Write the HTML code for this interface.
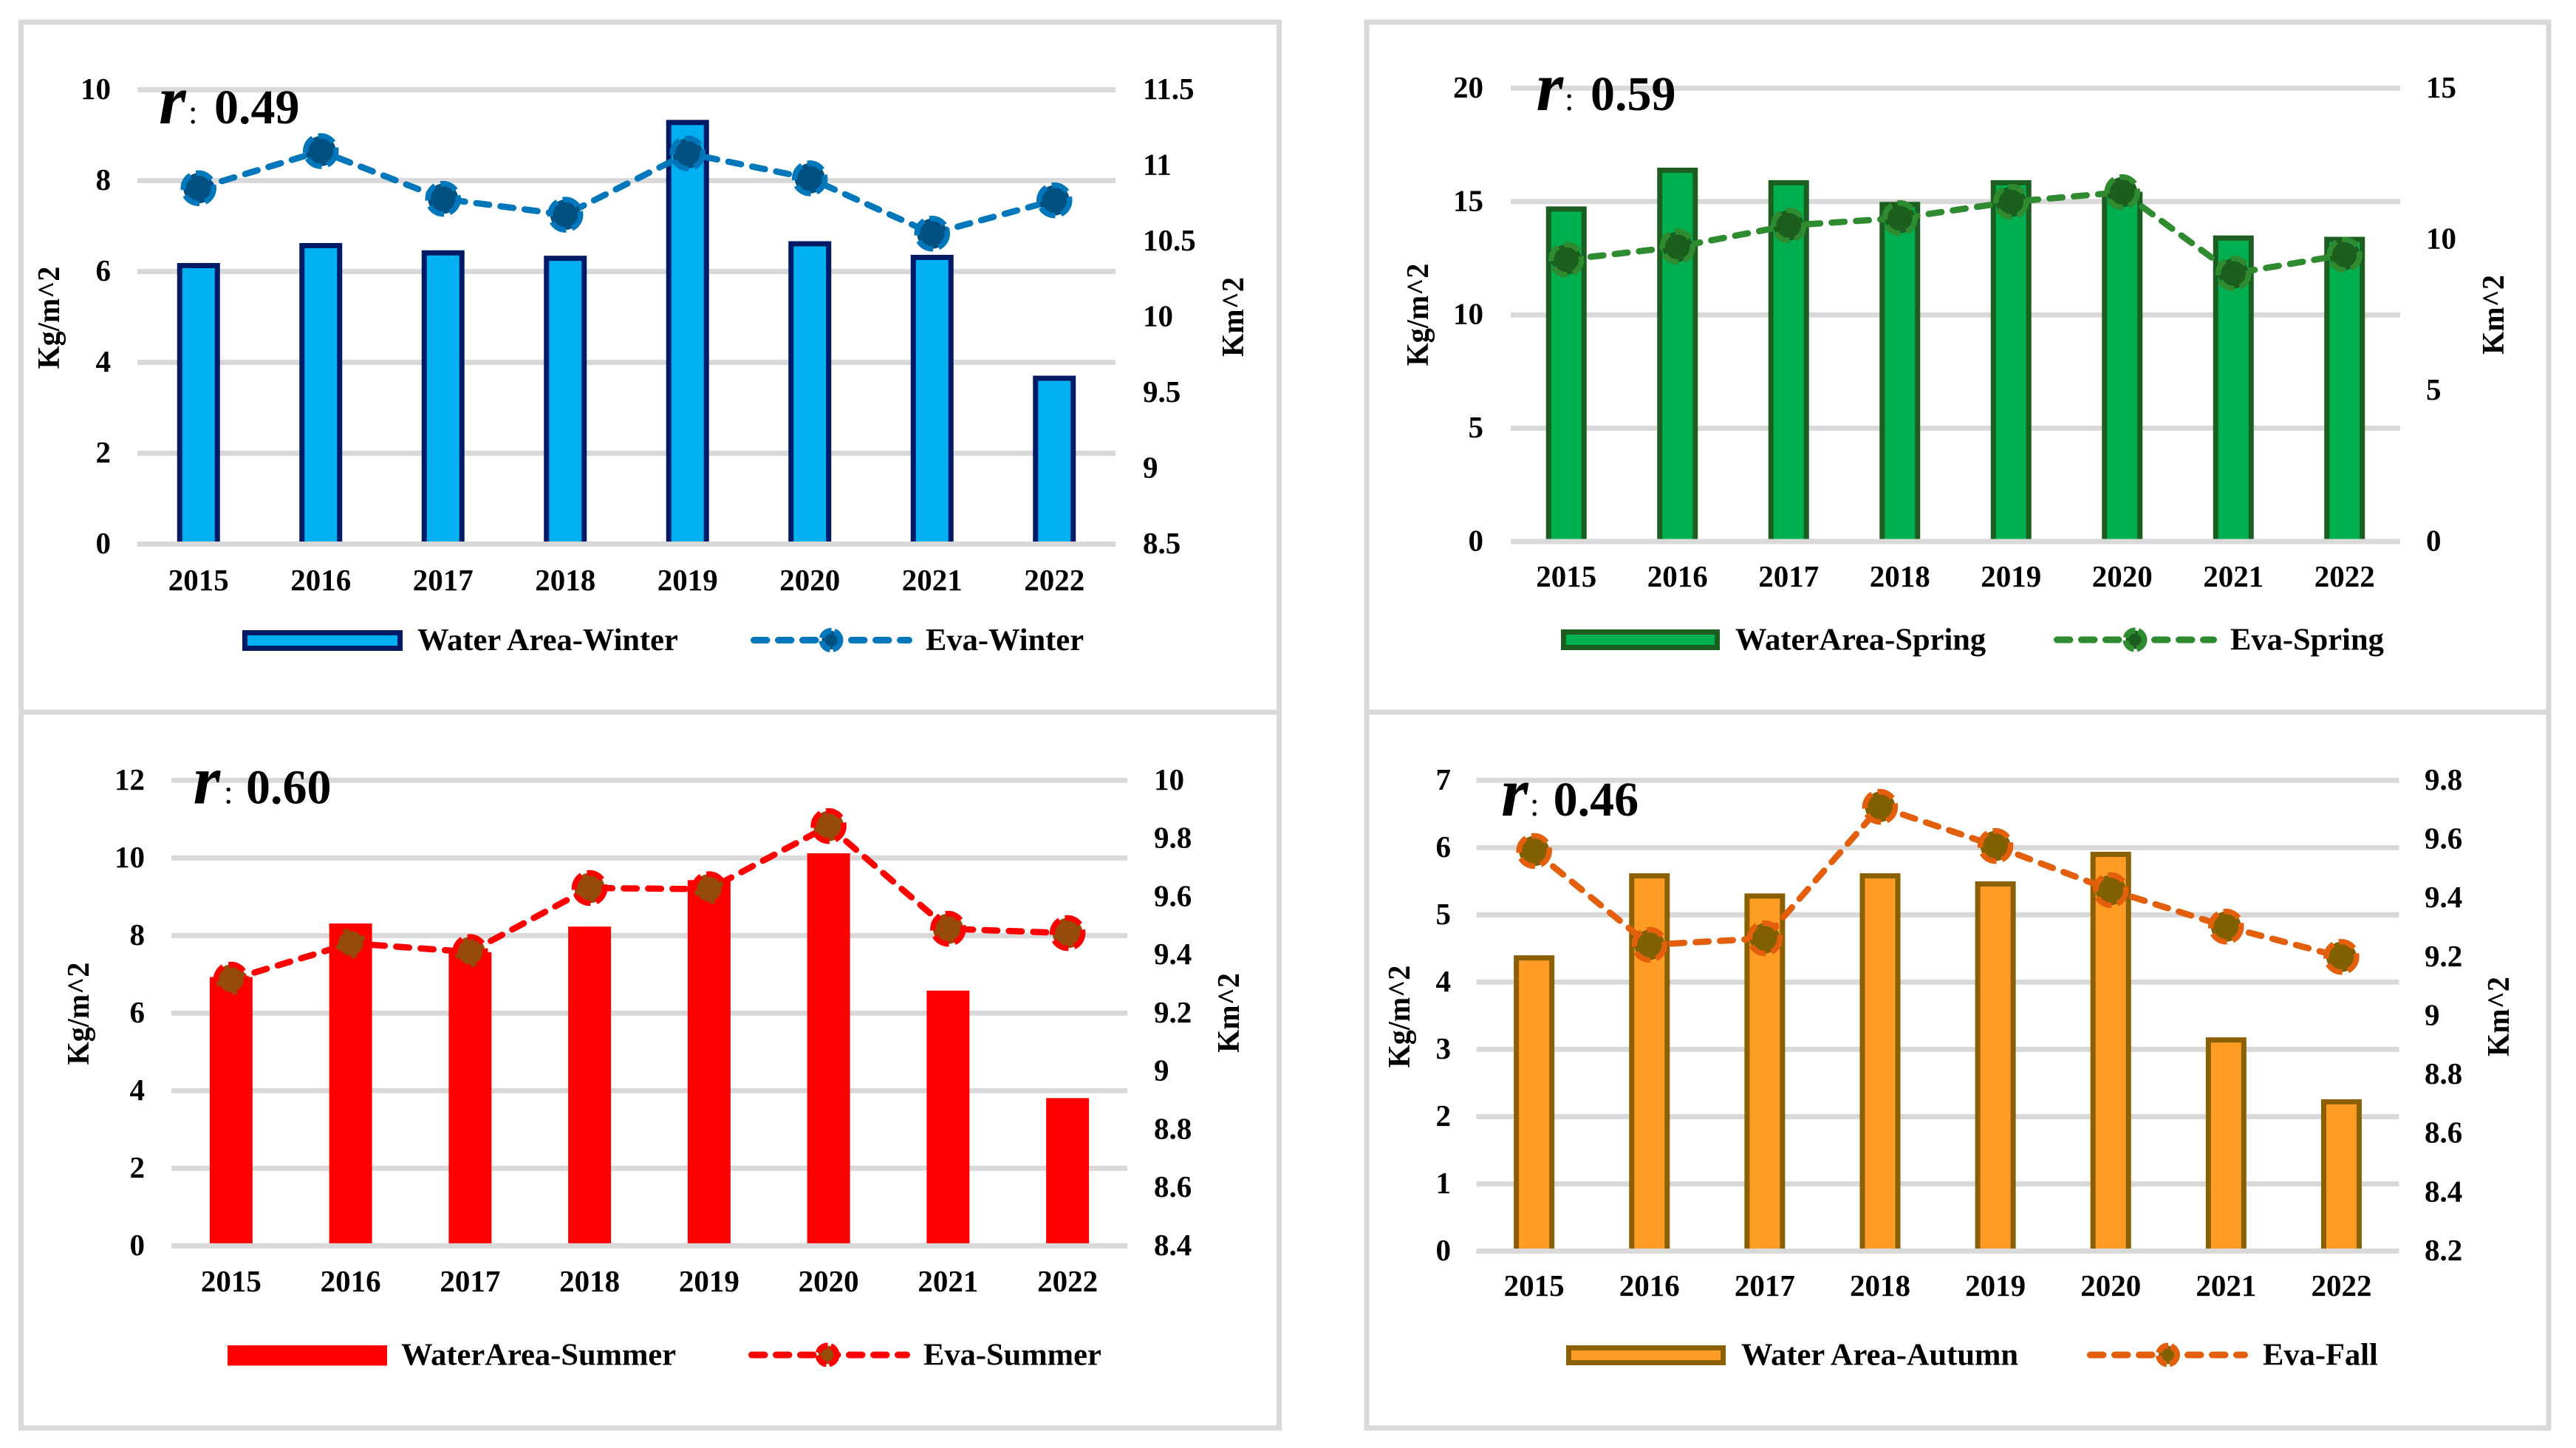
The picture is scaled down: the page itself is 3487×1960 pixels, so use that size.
<!DOCTYPE html>
<html lang="en">
<head>
<meta charset="utf-8">
<title>Water Area and Evaporation by Season</title>
<style>
  html, body { margin: 0; padding: 0; background: #ffffff; }
  svg { display: block; }
  text { font-family: "Liberation Serif", serif; font-weight: bold; fill: #000000; }
</style>
</head>
<body>
<svg id="figure" xmlns="http://www.w3.org/2000/svg" width="3487" height="1960" viewBox="0 0 3487 1960">
  <rect x="0" y="0" width="3487" height="1960" fill="#ffffff"/>
</svg>
<script>
const categories = ['2015', '2016', '2017', '2018', '2019', '2020', '2021', '2022'];

const winterBars = [6.13, 6.57, 6.41, 6.29, 9.28, 6.61, 6.31, 3.65];
const winterEva = [10.85, 11.095, 10.78, 10.675, 11.08, 10.915, 10.55, 10.77];
const winterLeftTicks = ['0', '2', '4', '6', '8', '10'];
const winterRightTicks = ['8.5', '9', '9.5', '10', '10.5', '11', '11.5'];

const springBars = [14.67, 16.38, 15.83, 14.87, 15.83, 15.32, 13.39, 13.33];
const springEva = [9.33, 9.75, 10.46, 10.7, 11.24, 11.56, 8.87, 9.49];
const springLeftTicks = ['0', '5', '10', '15', '20'];
const springRightTicks = ['0', '5', '10', '15'];

const summerBars = [6.93, 8.31, 7.57, 8.23, 9.43, 10.12, 6.58, 3.81];
const summerEva = [9.315, 9.44, 9.41, 9.63, 9.626, 9.843, 9.49, 9.475];
const summerLeftTicks = ['0', '2', '4', '6', '8', '10', '12'];
const summerRightTicks = ['8.4', '8.6', '8.8', '9', '9.2', '9.4', '9.6', '9.8', '10'];

const autumnBars = [4.36, 5.58, 5.28, 5.58, 5.46, 5.9, 3.14, 2.22];
const autumnEva = [9.56, 9.241, 9.263, 9.71, 9.577, 9.427, 9.303, 9.2];
const autumnLeftTicks = ['0', '1', '2', '3', '4', '5', '6', '7'];
const autumnRightTicks = ['8.2', '8.4', '8.6', '8.8', '9', '9.2', '9.4', '9.6', '9.8'];

const SVG_NS = 'http://www.w3.org/2000/svg';
const root = document.getElementById('figure');

function make(tag, attrs, parent) {
  const node = document.createElementNS(SVG_NS, tag);
  for (const key in attrs) node.setAttribute(key, attrs[key]);
  parent.appendChild(node);
  return node;
}

function label(parent, str, x, y, size, anchor) {
  const t = make('text', { x: x, y: y, 'font-size': size, 'text-anchor': anchor || 'middle' }, parent);
  t.textContent = str;
  return t;
}

const panels = [
  {
    key: 'winter', bars: winterBars, eva: winterEva, leftTicks: winterLeftTicks, rightTicks: winterRightTicks,
    frame: [28.5, 30, 1703, 934],
    left: 186, right: 1510, top: 121.5, bottom: 736.5,
    barW: 51, barStroke: 7, barFill: '#00B0F0', barEdge: '#001A66',
    line: '#0077BB', dot: '#005082',
    leftX: 150, rightX: 1547, xLabelY: 786,
    leftTitle: [67, 430], rightTitle: [1670, 429],
    swatch: [331.5, 856.5, 210, 21], legendY: 866.5, legendX: 565,
    lineLegend: [1016, 1235, 1125], lineTextX: 1253,
    barName: 'Water Area-Winter', lineName: 'Eva-Winter',
    rBadge: { rx: 215, cx: 255, nx: 290, base: 167, value: '0.49' }
  },
  {
    key: 'spring', bars: springBars, eva: springEva, leftTicks: springLeftTicks, rightTicks: springRightTicks,
    frame: [1850, 30, 1600, 934],
    left: 2045, right: 3249, top: 119.4, bottom: 733,
    barW: 48, barStroke: 7, barFill: '#00B050', barEdge: '#1B5E20',
    line: '#2E8B30', dot: '#1B5E1E',
    leftX: 2008, rightX: 3284, xLabelY: 781,
    leftTitle: [1920, 426], rightTitle: [3376, 426],
    swatch: [2116.5, 855.5, 208, 21], legendY: 866, legendX: 2349,
    lineLegend: [2780, 3001, 2890], lineTextX: 3019,
    barName: 'WaterArea-Spring', lineName: 'Eva-Spring',
    rBadge: { rx: 2079.5, cx: 2118, nx: 2153, base: 149, value: '0.59' }
  },
  {
    key: 'summer', bars: summerBars, eva: summerEva, leftTicks: summerLeftTicks, rightTicks: summerRightTicks,
    frame: [28.5, 964, 1703, 969],
    left: 232, right: 1526, top: 1056.3, bottom: 1686.4,
    barW: 58, barStroke: 0, barFill: '#FF0000', barEdge: 'none',
    line: '#FF0000', dot: '#964B0A',
    leftX: 196, rightX: 1562, xLabelY: 1735,
    leftTitle: [107, 1372], rightTitle: [1664, 1371],
    swatch: [308, 1821, 216, 27.5], legendY: 1834, legendX: 543,
    lineLegend: [1013, 1232, 1120], lineTextX: 1250,
    barName: 'WaterArea-Summer', lineName: 'Eva-Summer',
    rBadge: { rx: 261.5, cx: 303, nx: 333, base: 1087.6, value: '0.60' }
  },
  {
    key: 'autumn', bars: autumnBars, eva: autumnEva, leftTicks: autumnLeftTicks, rightTicks: autumnRightTicks,
    frame: [1850, 964, 1600, 969],
    left: 1998.6, right: 3247.5, top: 1056.3, bottom: 1693.5,
    barW: 48, barStroke: 7, barFill: '#FF9C24', barEdge: '#8B6000',
    line: '#E35F0B', dot: '#806000',
    leftX: 1964, rightX: 3282, xLabelY: 1741,
    leftTitle: [1895, 1376], rightTitle: [3383, 1376],
    swatch: [2123.5, 1824.5, 209, 20], legendY: 1834, legendX: 2357,
    lineLegend: [2825, 3043, 2934.5], lineTextX: 3063,
    barName: 'Water Area-Autumn', lineName: 'Eva-Fall',
    rBadge: { rx: 2032, cx: 2071, nx: 2102.6, base: 1104, value: '0.46' }
  }
];

function drawPanel(p) {
  const g = make('g', {}, root);
  
  

  const frame = make('rect', { x: p.frame[0], y: p.frame[1], width: p.frame[2], height: p.frame[3], fill: 'none', stroke: '#D9D9D9', 'stroke-width': 7 }, g);
  
  

  const leftMin = Number(p.leftTicks[0]);
  const leftMax = Number(p.leftTicks[p.leftTicks.length - 1]);
  const rightMin = Number(p.rightTicks[0]);
  const rightMax = Number(p.rightTicks[p.rightTicks.length - 1]);
  const yLeft = v => p.bottom - (v - leftMin) / (leftMax - leftMin) * (p.bottom - p.top);
  const yRight = v => p.bottom - (v - rightMin) / (rightMax - rightMin) * (p.bottom - p.top);
  const step = (p.right - p.left) / categories.length;
  const xPos = i => p.left + step * (i + 0.5);

  p.leftTicks.forEach(tick => {
    const grid = make('line', { x1: p.left, x2: p.right, y1: yLeft(Number(tick)), y2: yLeft(Number(tick)), stroke: '#D9D9D9', 'stroke-width': 7 }, g);
    
    
    const t = label(g, tick, p.leftX, yLeft(Number(tick)) + 12.5, 41, 'end');
    
    
  });

  p.rightTicks.forEach(tick => {
    const t = label(g, tick, p.rightX, yRight(Number(tick)) + 12.5, 41, 'start');
    
    
  });

  p.bars.forEach((v, i) => {
    const topY = yLeft(v);
    const bar = make('rect', { x: xPos(i) - p.barW / 2, y: topY, width: p.barW, height: p.bottom - topY, fill: p.barFill, stroke: p.barEdge, 'stroke-width': p.barStroke }, g);
    
    
  });

  const axis = make('line', { x1: p.left, x2: p.right, y1: p.bottom, y2: p.bottom, stroke: '#D9D9D9', 'stroke-width': 7 }, g);
  
  

  categories.forEach((c, i) => {
    const t = label(g, c, xPos(i), p.xLabelY + 13, 41);
    
    
  });

  const points = p.eva.map((v, i) => xPos(i) + ',' + yRight(v)).join(' ');
  const path = make('polyline', { points: points, fill: 'none', stroke: p.line, 'stroke-width': 8.5, 'stroke-linecap': 'round', 'stroke-linejoin': 'round', 'stroke-dasharray': '17.5 15.5' }, g);
  
  

  p.eva.forEach((v, i) => {
    const dot = make('circle', { cx: xPos(i), cy: yRight(v), r: 20.5, fill: p.dot, stroke: p.line, 'stroke-width': 7.5, 'stroke-dasharray': '23 8' }, g);
    
    
  });

  const leftTitle = label(g, 'Kg/m^2', 0, 0, 40);
  leftTitle.setAttribute('transform', 'translate(' + (p.leftTitle[0] + 13) + ',' + p.leftTitle[1] + ') rotate(-90) scale(1,1.05)');
  
  

  const rightTitle = label(g, 'Km^2', 0, 0, 40);
  rightTitle.setAttribute('transform', 'translate(' + (p.rightTitle[0] + 13) + ',' + p.rightTitle[1] + ') rotate(-90) scale(1,1.05)');
  
  

  const swatch = make('rect', { x: p.swatch[0], y: p.swatch[1], width: p.swatch[2], height: p.swatch[3], fill: p.barFill, stroke: p.barEdge, 'stroke-width': p.barStroke }, g);
  
  

  const barText = label(g, p.barName, p.legendX, p.legendY + 13.5, 42.5, 'start');
  
  

  const legendLine = make('line', { x1: p.lineLegend[0] + 4.5, x2: p.lineLegend[1] - 4.5, y1: p.legendY, y2: p.legendY, stroke: p.line, 'stroke-width': 9, 'stroke-linecap': 'round', 'stroke-dasharray': '17.5 15.5' }, g);
  
  

  const legendDot = make('circle', { cx: p.lineLegend[2], cy: p.legendY, r: 12.5, fill: p.dot, stroke: p.line, 'stroke-width': 8, 'stroke-dasharray': '17 4' }, g);
  
  

  const lineText = label(g, p.lineName, p.lineTextX, p.legendY + 13.5, 42.5, 'start');
  
  

  const rLetter = label(g, 'r', p.rBadge.rx, p.rBadge.base, 94, 'start');
  rLetter.setAttribute('font-style', 'italic');
  
  

  const colon = label(g, ':', p.rBadge.cx, p.rBadge.base, 45, 'start');
  colon.setAttribute('font-weight', 'normal');
  colon.style.fontWeight = 'normal';
  
  

  const rValue = label(g, p.rBadge.value, p.rBadge.nx, p.rBadge.base, 66, 'start');
  
  
}

panels.forEach(drawPanel);
</script>
</body>
</html>
